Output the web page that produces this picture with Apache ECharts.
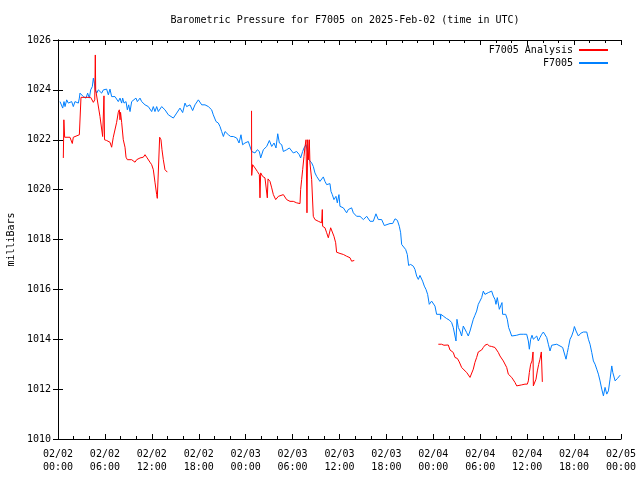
<!DOCTYPE html>
<html>
<head>
<meta charset="utf-8">
<script src="https://cdn.jsdelivr.net/npm/echarts@6/dist/echarts.min.js"></script>
<style>html,body{margin:0;padding:0;background:#fff}#c{width:640px;height:480px}</style>
</head>
<body>
<div id="c"></div>
<script>
// hours since 2025-02-02 00:00 UTC, pressure in milliBars
const xTickHours = [0, 6, 12, 18, 24, 30, 36, 42, 48, 54, 60, 66, 72];
const yTicks = [1010, 1012, 1014, 1016, 1018, 1020, 1022, 1024, 1026];

const analysisSeg1 = [[0.68,1021.27],[0.75,1022.8],[0.85,1022.1],[1.53,1022.1],[1.83,1021.85],[1.96,1022.1],[2.73,1022.2],[2.9,1022.2],[2.94,1023.7],[4.18,1023.7],[4.52,1023.5],[4.7,1023.6],[4.77,1025.4],[4.82,1024.0],[4.95,1023.95],[5.37,1022.93],[5.71,1022.13],[5.84,1022.1],[5.88,1023.76],[5.95,1022.0],[6.22,1021.97],[6.65,1021.9],[6.86,1021.7],[7.07,1022.1],[7.5,1022.7],[7.71,1023.1],[7.84,1023.2],[7.93,1022.8],[8.0,1023.1],[8.14,1022.7],[8.35,1022.0],[8.57,1021.7],[8.7,1021.3],[8.87,1021.2],[9.42,1021.2],[9.85,1021.1],[10.06,1021.2],[10.49,1021.27],[10.91,1021.3],[11.13,1021.4],[11.34,1021.3],[11.76,1021.1],[11.98,1021.0],[12.19,1020.8],[12.4,1020.3],[12.62,1019.8],[12.7,1019.65],[12.95,1019.65],[13.0,1022.1],[13.17,1022.0],[13.3,1021.6],[13.47,1021.2],[13.68,1020.8],[13.98,1020.7]];

const analysisSeg2 = [[24.75,1023.16],[24.77,1020.57],[24.89,1021.0],[25.19,1020.87],[25.49,1020.73],[25.75,1020.6],[25.83,1019.67],[25.92,1020.67],[26.17,1020.53],[26.47,1020.47],[26.77,1019.67],[26.86,1020.43],[27.11,1020.33],[27.33,1020.07],[27.54,1019.8],[27.84,1019.6],[28.18,1019.73],[28.82,1019.8],[29.24,1019.6],[29.67,1019.53],[30.09,1019.53],[30.52,1019.47],[30.95,1019.44],[31.03,1020.0],[31.16,1020.4],[31.29,1020.8],[31.46,1021.33],[31.59,1021.73],[31.72,1022.0],[31.8,1021.93],[31.84,1019.07],[31.93,1022.0],[32.06,1021.2],[32.14,1022.0],[32.22,1021.07],[32.44,1020.4],[32.65,1018.93],[32.86,1018.8],[33.29,1018.73],[33.72,1018.67],[33.8,1019.2],[33.84,1018.53],[34.14,1018.47],[34.36,1018.27],[34.57,1018.07],[34.78,1018.0],[34.87,1018.47],[35.12,1018.47],[35.29,1018.13],[35.51,1017.87],[35.63,1017.49],[36.06,1017.44],[36.49,1017.4],[36.91,1017.33],[37.34,1017.27],[37.55,1017.13],[37.77,1017.09],[37.89,1017.16]];

const analysisSeg3 = [[48.64,1013.8],[49.06,1013.8],[49.36,1013.76],[49.61,1013.73],[49.91,1013.77],[50.13,1013.57],[50.55,1013.47],[50.77,1013.27],[51.07,1013.23],[51.32,1013.09],[51.62,1012.87],[51.92,1012.77],[52.26,1012.67],[52.69,1012.47],[52.9,1012.53],[53.11,1012.8],[53.32,1013.07],[53.54,1013.27],[53.75,1013.49],[53.96,1013.44],[54.18,1013.57],[54.39,1013.67],[54.6,1013.76],[54.9,1013.8],[55.16,1013.73],[55.46,1013.71],[55.88,1013.67],[56.1,1013.6],[56.31,1013.47],[56.52,1013.33],[56.74,1013.27],[56.95,1013.13],[57.16,1013.07],[57.38,1012.87],[57.59,1012.6],[57.8,1012.53],[58.02,1012.47],[58.23,1012.4],[58.44,1012.27],[58.66,1012.13],[58.87,1012.16],[59.3,1012.17],[59.72,1012.2],[60.02,1012.2],[60.15,1012.33],[60.28,1012.67],[60.45,1013.0],[60.62,1013.13],[60.75,1013.49],[60.79,1012.13],[61.0,1012.11],[61.13,1012.4],[61.3,1012.73],[61.47,1012.99],[61.64,1013.2],[61.81,1013.49],[61.9,1013.52],[61.94,1012.29]];

const stationData = [[0.26,1023.53],[0.47,1023.47],[0.6,1023.27],[0.77,1023.53],[0.9,1023.33],[1.11,1023.6],[1.32,1023.47],[1.53,1023.4],[1.75,1023.53],[1.96,1023.33],[2.17,1023.53],[2.39,1023.6],[2.6,1023.47],[2.73,1023.67],[2.81,1023.87],[3.03,1023.87],[3.24,1023.73],[3.58,1023.67],[3.79,1023.87],[4.01,1023.67],[4.18,1024.0],[4.39,1024.13],[4.52,1024.47],[4.65,1024.27],[4.77,1024.0],[4.95,1023.87],[5.16,1024.0],[5.37,1023.93],[5.58,1023.87],[5.8,1024.0],[6.01,1023.93],[6.22,1024.03],[6.44,1023.8],[6.65,1024.03],[6.86,1023.73],[7.29,1023.73],[7.5,1023.67],[7.71,1023.53],[7.93,1023.67],[8.14,1023.47],[8.27,1023.67],[8.44,1023.47],[8.7,1023.53],[8.87,1023.2],[9.04,1023.4],[9.21,1023.13],[9.42,1023.53],[9.63,1023.47],[9.97,1023.67],[10.15,1023.53],[10.49,1023.67],[10.7,1023.53],[11.13,1023.4],[11.55,1023.33],[11.98,1023.13],[12.19,1023.33],[12.4,1023.13],[12.62,1023.33],[12.83,1023.13],[13.26,1023.33],[13.68,1023.2],[13.9,1023.13],[14.11,1023.0],[14.32,1023.03],[14.75,1022.87],[15.18,1023.07],[15.6,1023.27],[15.94,1023.09],[16.24,1023.47],[16.45,1023.33],[16.88,1023.4],[17.22,1023.17],[17.52,1023.4],[17.95,1023.6],[18.38,1023.4],[18.8,1023.4],[19.23,1023.33],[19.65,1023.2],[19.86,1023.0],[20.21,1022.73],[20.5,1022.67],[20.72,1022.53],[20.93,1022.33],[21.15,1022.13],[21.36,1022.33],[21.57,1022.4],[21.79,1022.2],[22.08,1022.13],[22.42,1022.13],[22.85,1022.07],[23.15,1021.87],[23.4,1022.2],[23.61,1021.8],[23.91,1021.87],[24.34,1021.93],[24.77,1021.53],[25.19,1021.47],[25.49,1021.6],[25.75,1021.53],[25.92,1021.27],[26.26,1021.6],[26.69,1021.73],[27.03,1021.97],[27.33,1021.73],[27.63,1021.87],[27.88,1021.67],[28.1,1022.24],[28.31,1021.87],[28.61,1021.8],[28.82,1021.53],[29.25,1021.6],[29.59,1021.67],[30.09,1021.47],[30.52,1021.53],[30.86,1021.4],[31.03,1021.27],[31.29,1021.53],[31.46,1021.67],[31.72,1021.8],[31.89,1021.53],[32.01,1021.23],[32.22,1021.2],[32.44,1021.07],[32.65,1020.93],[32.86,1020.67],[33.08,1020.53],[33.29,1020.53],[33.5,1020.33],[33.72,1020.4],[33.93,1020.51],[34.14,1020.33],[34.36,1020.2],[34.57,1020.13],[34.78,1020.24],[34.91,1019.93],[35.08,1019.8],[35.29,1019.6],[35.55,1019.73],[35.72,1019.47],[35.93,1019.8],[36.06,1019.33],[36.28,1019.4],[36.49,1019.27],[36.7,1019.27],[36.91,1019.07],[37.12,1019.2],[37.34,1019.13],[37.55,1019.27],[37.77,1019.07],[37.98,1019.0],[38.19,1018.93],[38.62,1018.93],[39.05,1018.8],[39.27,1018.77],[39.48,1018.93],[39.69,1019.0],[39.91,1018.73],[40.1,1018.8],[40.32,1018.73],[40.66,1019.03],[40.96,1018.8],[41.39,1018.8],[41.73,1018.56],[41.94,1018.64],[42.46,1018.64],[42.8,1018.64],[43.1,1018.83],[43.4,1018.77],[43.65,1018.53],[43.82,1018.27],[43.95,1017.8],[44.16,1017.8],[44.46,1017.6],[44.67,1017.4],[44.84,1016.96],[45.1,1017.0],[45.44,1016.93],[45.65,1016.8],[45.87,1016.53],[46.08,1016.4],[46.29,1016.56],[46.51,1016.6],[46.63,1016.33],[46.85,1016.13],[47.06,1016.0],[47.27,1015.8],[47.48,1015.4],[47.78,1015.53],[48.0,1015.6],[48.21,1015.33],[48.42,1015.0],[48.64,1014.93],[48.9,1015.0],[48.93,1014.8],[48.96,1015.0],[49.27,1014.93],[49.49,1015.0],[49.7,1014.83],[50.04,1014.77],[50.34,1014.67],[50.55,1014.47],[50.77,1014.4],[50.9,1013.93],[51.02,1014.8],[51.2,1014.47],[51.41,1014.33],[51.62,1014.13],[51.83,1014.53],[52.05,1014.47],[52.26,1014.27],[52.47,1014.13],[52.69,1014.33],[52.9,1014.4],[53.11,1014.8],[53.32,1014.96],[53.54,1015.13],[53.75,1015.4],[53.96,1015.53],[54.18,1015.67],[54.39,1015.93],[54.6,1015.8],[54.82,1015.87],[55.03,1015.87],[55.24,1015.84],[55.46,1015.93],[55.67,1015.73],[55.88,1015.6],[56.01,1015.4],[56.18,1015.67],[56.44,1015.2],[56.61,1015.13],[56.78,1015.47],[56.86,1015.0],[57.08,1015.07],[57.25,1015.0],[57.46,1014.8],[57.63,1014.47],[57.8,1014.33],[58.02,1014.13],[58.23,1014.2],[58.66,1014.16],[59.08,1014.2],[59.3,1014.13],[59.51,1014.2],[59.94,1014.2],[60.15,1013.93],[60.28,1013.6],[60.45,1014.0],[60.62,1014.16],[60.79,1014.0],[61.0,1013.93],[61.22,1014.13],[61.43,1013.93],[61.64,1014.07],[61.86,1014.2],[62.07,1014.29],[62.28,1014.24],[62.5,1014.07],[62.71,1013.8],[62.92,1013.53],[63.14,1013.76],[63.35,1013.8],[63.78,1013.8],[64.2,1013.73],[64.54,1013.67],[64.76,1013.6],[64.97,1013.2],[65.14,1013.47],[65.27,1013.67],[65.48,1014.0],[65.69,1014.13],[65.91,1014.33],[66.04,1014.51],[66.25,1014.33],[66.55,1014.13],[66.85,1014.24],[67.19,1014.29],[67.62,1014.29],[67.83,1014.0],[68.04,1013.8],[68.26,1013.47],[68.47,1013.13],[68.68,1013.0],[68.9,1012.8],[69.11,1012.6],[69.32,1012.33],[69.54,1012.0],[69.75,1011.73],[69.96,1012.07],[70.18,1011.8],[70.39,1011.93],[70.6,1012.4],[70.82,1012.93],[70.95,1012.67],[71.25,1012.33],[71.55,1012.43],[71.89,1012.56]];

const titleText = 'Barometric Pressure for F7005 on 2025-Feb-02 (time in UTC)';
const seriesNames = ['F7005 Analysis', 'F7005'];
const yAxisName = 'milliBars';

const analysisData = analysisSeg1.concat([[14.5, null]], analysisSeg2, [[38.5, null]], analysisSeg3);

const FONT = 'DejaVu Sans Mono';
function pad(n){ return (n < 10 ? '0' : '') + n; }
function fmtX(h){
  const day = 2 + Math.floor(h / 24);
  const hh = h % 24;
  return pad(2) + '/' + pad(day) + '\n' + pad(hh) + ':00';
}

const chart = echarts.init(document.getElementById('c'), null, {renderer: 'canvas'});
const axisLine = {show: true, lineStyle: {color: '#000', width: 1}};
const xCommon = {
  type: 'value', min: xTickHours[0], max: xTickHours[xTickHours.length - 1], interval: 6,
  axisLine: axisLine, splitLine: {show: false},
  axisTick: {show: true, inside: true, length: 5, lineStyle: {color: '#000'}},
  minorTick: {show: true, splitNumber: 3, length: 3, lineStyle: {color: '#000'}}
};
const yCommon = {
  type: 'value', min: yTicks[0], max: yTicks[yTicks.length - 1], interval: 2,
  axisLine: axisLine, splitLine: {show: false},
  axisTick: {show: true, inside: true, length: 5, lineStyle: {color: '#000'}}
};
const legendCommon = {
  right: 31, align: 'right', orient: 'vertical', padding: 0,
  itemWidth: 29, itemHeight: 10, itemGap: 3,
  itemStyle: {opacity: 0},
  textStyle: {fontFamily: FONT, fontSize: 10, color: '#000', padding: [0, 1, 0, 0]}
};

chart.setOption({
  animation: false,
  backgroundColor: '#fff',
  title: {
    text: titleText, left: 340, top: 10, textAlign: 'center',
    textStyle: {fontFamily: FONT, fontSize: 10, fontWeight: 'normal', color: '#000'}
  },
  legend: [
    Object.assign({}, legendCommon, {data: [seriesNames[0]], top: 45}),
    Object.assign({}, legendCommon, {data: [seriesNames[1]], top: 58})
  ],
  grid: {left: 58, top: 40, width: 563, height: 399, containLabel: false, outerBoundsMode: 'none'},
  xAxis: [
    Object.assign({}, xCommon, {
      position: 'bottom',
      axisLabel: {show: true, formatter: fmtX, fontFamily: FONT, fontSize: 10, color: '#000',
                  margin: 9, lineHeight: 13, showMinLabel: true, showMaxLabel: true}
    }),
    Object.assign({}, xCommon, {position: 'top', axisLabel: {show: false}})
  ],
  yAxis: [
    Object.assign({}, yCommon, {
      position: 'left',
      name: yAxisName, nameLocation: 'middle', nameGap: 41,
      nameTextStyle: {fontFamily: FONT, fontSize: 10, color: '#000'},
      axisLabel: {show: true, formatter: function(v){ return String(v); },
                  fontFamily: FONT, fontSize: 10, color: '#000', margin: 7}
    }),
    Object.assign({}, yCommon, {position: 'right', axisLabel: {show: false}})
  ],
  series: [
    {
      name: seriesNames[1], type: 'line', data: stationData, xAxisIndex: 0, yAxisIndex: 0,
      symbol: 'none', showSymbol: false, connectNulls: false,
      lineStyle: {color: '#0080ff', width: 1}, itemStyle: {color: '#0080ff'}, z: 2
    },
    {
      name: seriesNames[0], type: 'line', data: analysisData, xAxisIndex: 0, yAxisIndex: 0,
      symbol: 'none', showSymbol: false, connectNulls: false,
      lineStyle: {color: '#ff0000', width: 1}, itemStyle: {color: '#ff0000'}, z: 3
    }
  ]
});
</script>
</body>
</html>
